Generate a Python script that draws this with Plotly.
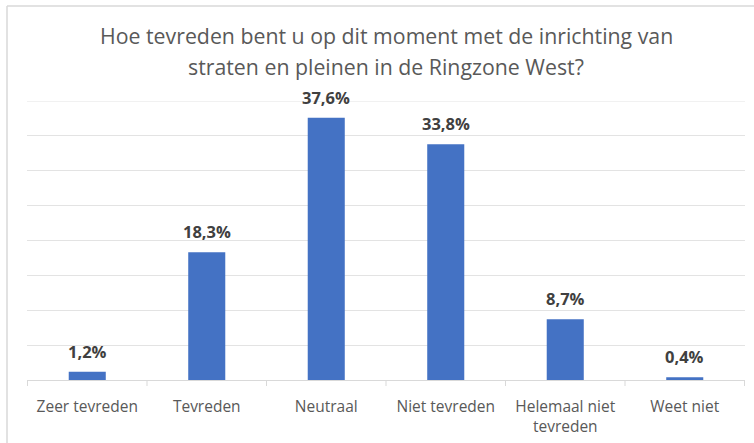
import plotly.graph_objects as go

categories = ["Zeer tevreden", "Tevreden", "Neutraal", "Niet tevreden", "Helemaal niet<br>tevreden", "Weet niet"]
values = [1.2, 18.3, 37.6, 33.8, 8.7, 0.4]
labels = [f"{v:.1f}%".replace(".", ",") for v in values]
title_lines = ["Hoe tevreden bent u op dit moment met de inrichting van",
               "straten en pleinen in de Ringzone West?"]
y_max = 40
grid_step = 5

W, H = 754, 443
L, R, T, B = 27, 9, 101, 63
pw, ph = W - L - R, H - T - B

fig = go.Figure(go.Bar(
    x=categories, y=values,
    marker=dict(color="#4472C4", line=dict(width=0)),
    width=0.31, hoverinfo="x+y",
))

def px_x(x):
    return (x - L) / pw

def px_y(y):
    return (H - B - y) / ph

annotations = [
    dict(x=c, y=v, xref="x", yref="y", text=f"<b>{t}</b>", showarrow=False,
         yanchor="bottom", yshift=7,
         font=dict(family="Open Sans", size=16.5, color="#404040"))
    for c, v, t in zip(categories, values, labels)
]
for line, ypx in zip(title_lines, [36, 66]):
    annotations.append(dict(x=0.5, y=px_y(ypx), xref="paper", yref="paper", text=line,
                            showarrow=False, xanchor="center", yanchor="middle",
                            font=dict(family="Open Sans", size=21.3, color="#595959")))

fig.update_layout(
    width=W, height=H,
    margin=dict(l=L, r=R, t=T, b=B, autoexpand=False),
    paper_bgcolor="white", plot_bgcolor="white",
    showlegend=False,
    xaxis=dict(
        showgrid=False, showline=True, linecolor="#D9D9D9", linewidth=1,
        ticks="", tickfont=dict(family="Open Sans", size=15.5, color="#595959"),
        fixedrange=True, automargin=False, ticklabelstandoff=12,
    ),
    yaxis=dict(
        range=[0, y_max], dtick=grid_step, showgrid=True,
        gridcolor="#E3E3E3", gridwidth=1,
        showticklabels=False, zeroline=False, fixedrange=True, automargin=False,
    ),
    annotations=annotations,
    shapes=[
        dict(type="line", xref="paper", yref="y", x0=0, x1=1, y0=y_max, y1=y_max,
             line=dict(color="#E3E3E3", width=1), layer="below"),
        dict(type="line", xref="paper", yref="paper", x0=px_x(7), x1=px_x(7), y0=px_y(6), y1=px_y(445),
             line=dict(color="#D9D9D9", width=1.5)),
        dict(type="line", xref="paper", yref="paper", x0=px_x(7), x1=px_x(756), y0=px_y(6), y1=px_y(6),
             line=dict(color="#D9D9D9", width=1.5)),
    ] + [
        dict(type="line", xref="x", yref="paper", x0=i - 0.5, x1=i - 0.5, y0=0, y1=-6 / ph,
             line=dict(color="#D9D9D9", width=1))
        for i in range(len(categories) + 1)
    ],
)

fig.write_html("out.html", config={"displayModeBar": False},
               post_script="document.body.style.margin='0';document.body.style.overflow='hidden';")
